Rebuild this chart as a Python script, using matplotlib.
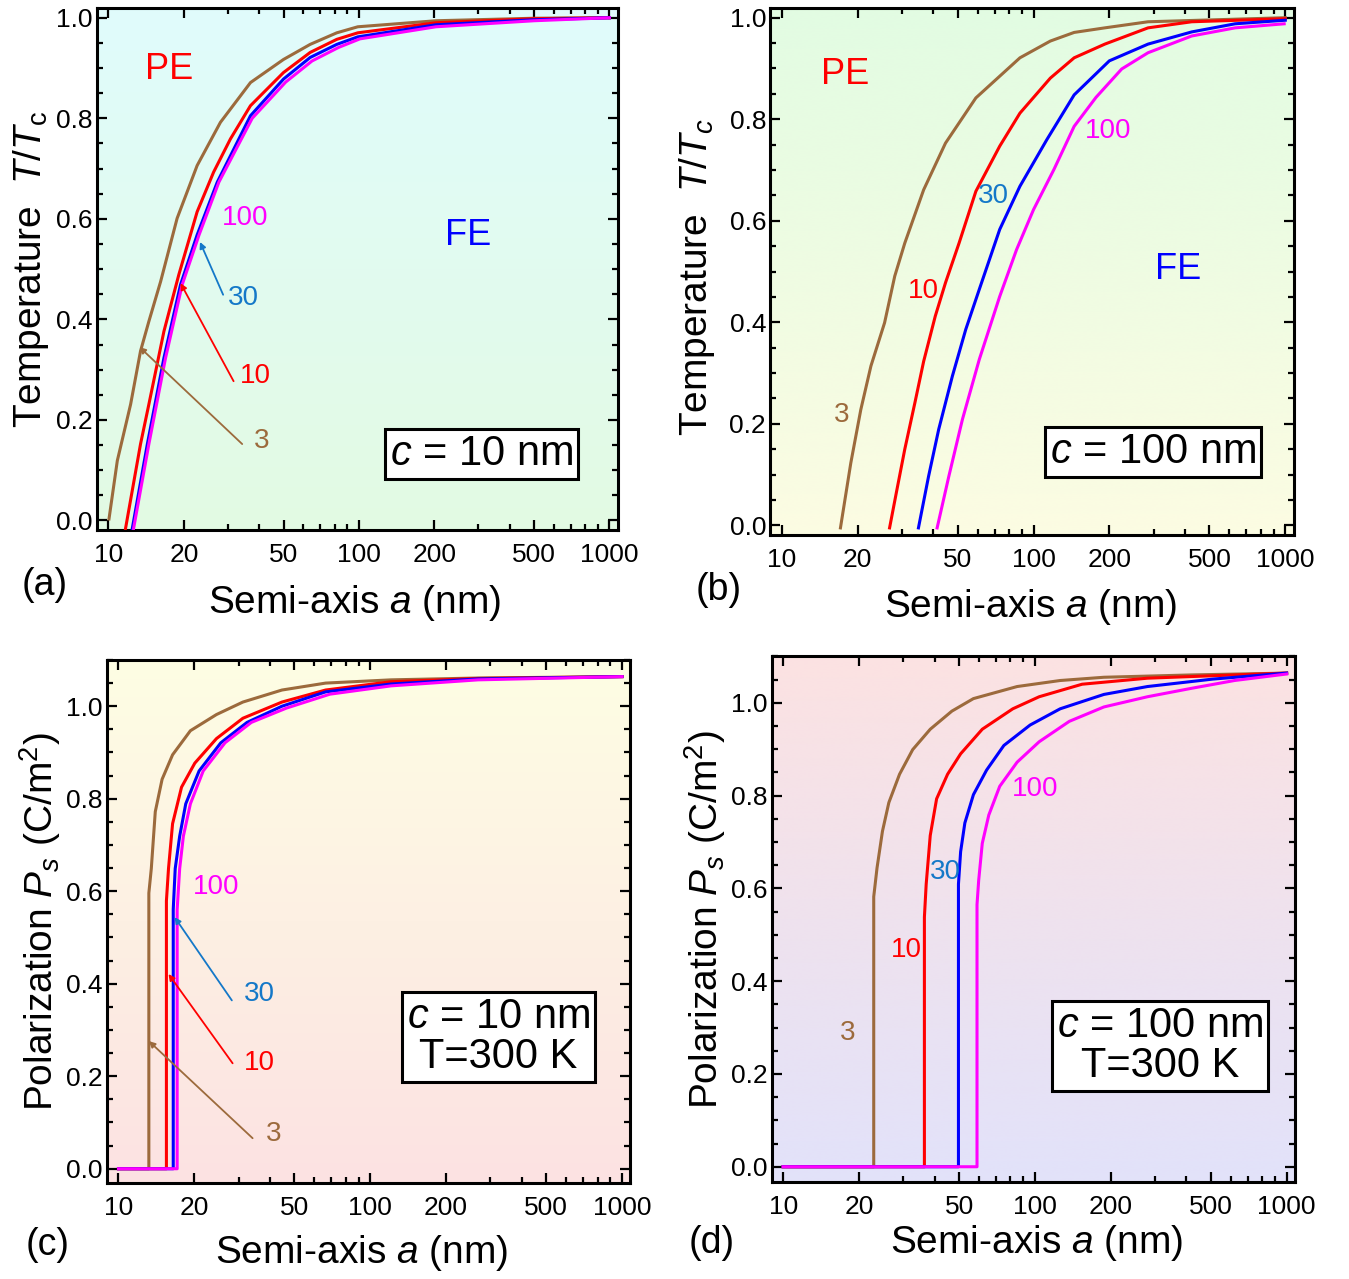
import numpy as np
import matplotlib
matplotlib.use("Agg")
import matplotlib.pyplot as plt
from matplotlib.ticker import FixedLocator, NullFormatter, MultipleLocator

plt.rcParams['font.family'] = ['Liberation Sans', 'DejaVu Sans']
plt.rcParams['mathtext.fontset'] = 'custom'
plt.rcParams['mathtext.rm'] = 'Liberation Sans'
plt.rcParams['mathtext.it'] = 'Liberation Sans:italic'

BROWN = '#9c6a3c'
LBLUE = '#1478c8'

# ---- (a) c = 10 nm, T/Tc vs a
a3_a = [10.05, 10.85, 12.26, 13.43, 14.5, 16.15, 18.8, 22.6, 28.0, 36.9, 50, 63.9, 81.6, 99, 203, 500, 1000]
t3_a = [0.003, 0.119, 0.231, 0.337, 0.396, 0.475, 0.601, 0.706, 0.792, 0.871, 0.917, 0.947, 0.970, 0.982, 0.994, 0.999, 1.0]
a10_a = [11.7, 13.43, 14.5, 16.65, 19.1, 22.6, 26.3, 30.7, 36.9, 50, 63.9, 81.6, 99, 203, 500, 1000]
t10_a = [-0.016, 0.152, 0.231, 0.376, 0.489, 0.614, 0.693, 0.759, 0.825, 0.891, 0.931, 0.957, 0.970, 0.990, 0.998, 1.0]
a30_a = [12.45, 14.3, 16.65, 19.4, 22.6, 27.2, 36.9, 50, 63.9, 81.6, 99, 203, 500, 1000]
t30_a = [-0.016, 0.152, 0.323, 0.469, 0.568, 0.673, 0.805, 0.878, 0.921, 0.947, 0.962, 0.986, 0.996, 1.0]
a100_a = [12.6, 14.5, 16.9, 19.7, 23.0, 27.6, 37.5, 51, 65, 83, 101, 203, 500, 1000]
t100_a = [-0.016, 0.152, 0.323, 0.469, 0.568, 0.673, 0.80, 0.872, 0.914, 0.941, 0.958, 0.982, 0.994, 1.0]

# ---- (b) c = 100 nm
a3_b = [17.1, 18.8, 20.6, 22.6, 25.6, 28.1, 30.8, 36.6, 44.7, 59.0, 88.3, 116.6, 145, 192, 285, 1000]
t3_b = [-0.005, 0.123, 0.228, 0.314, 0.399, 0.491, 0.556, 0.661, 0.753, 0.842, 0.921, 0.954, 0.971, 0.98, 0.992, 1.0]
a10_b = [26.8, 28.5, 30.8, 33.8, 36.6, 40.7, 44.7, 50.6, 59.0, 73.4, 88.3, 116.6, 145, 192, 285, 425, 1000]
t10_b = [-0.005, 0.064, 0.150, 0.242, 0.323, 0.412, 0.478, 0.556, 0.658, 0.747, 0.812, 0.881, 0.921, 0.948, 0.98, 0.992, 0.998]
a30_b = [34.9, 38.3, 42.0, 47.6, 53.8, 60.9, 73.4, 88.3, 113, 145, 200, 285, 425, 632, 1000]
t30_b = [-0.005, 0.097, 0.189, 0.294, 0.386, 0.465, 0.583, 0.668, 0.760, 0.848, 0.915, 0.948, 0.972, 0.988, 0.995]
a100_b = [41.4, 46.1, 52.2, 60.9, 73.4, 85.6, 100, 120.5, 145, 177, 224, 285, 425, 632, 990]
t100_b = [-0.005, 0.097, 0.209, 0.327, 0.451, 0.543, 0.622, 0.701, 0.786, 0.843, 0.899, 0.931, 0.964, 0.98, 0.988]

# ---- (c) c = 10 nm, T = 300 K, Ps vs a
a3_c = [10, 13.2, 13.2, 13.5, 14.0, 14.9, 16.4, 19.3, 24.5, 31.2, 44.6, 66.5, 121, 268, 1000]
p3_c = [0, 0, 0.596, 0.649, 0.772, 0.842, 0.895, 0.947, 0.982, 1.009, 1.035, 1.05, 1.057, 1.061, 1.064]
a10_c = [10, 15.5, 15.5, 15.8, 16.4, 17.8, 20.1, 24.5, 31.2, 44.6, 66.5, 121, 268, 1000]
p10_c = [0, 0, 0.579, 0.649, 0.746, 0.825, 0.877, 0.93, 0.974, 1.009, 1.035, 1.053, 1.06, 1.064]
a30_c = [10, 16.5, 16.5, 16.8, 17.5, 18.5, 20.9, 25.5, 32.4, 44.6, 66.5, 121, 268, 1000]
p30_c = [0, 0, 0.561, 0.649, 0.719, 0.789, 0.86, 0.921, 0.965, 1.0, 1.031, 1.048, 1.059, 1.064]
a100_c = [10, 17.1, 17.1, 17.5, 18.1, 19.3, 21.7, 26.5, 33.7, 46.5, 69.1, 121, 268, 1000]
p100_c = [0, 0, 0.56, 0.649, 0.719, 0.789, 0.86, 0.921, 0.965, 0.996, 1.026, 1.044, 1.057, 1.064]

# ---- (d) c = 100 nm, T = 300 K
a3_d = [10, 22.9, 22.9, 23.6, 24.8, 26.3, 29.0, 32.7, 38.4, 46.8, 57.0, 85.0, 126, 188, 417, 1000]
p3_d = [0, 0, 0.582, 0.644, 0.723, 0.785, 0.846, 0.899, 0.943, 0.982, 1.009, 1.035, 1.048, 1.055, 1.06, 1.064]
a10_d = [10, 36.4, 36.4, 37.0, 38.4, 40.7, 45.0, 50.7, 61.8, 81.7, 104, 154, 280, 621, 1000]
p10_d = [0, 0, 0.538, 0.609, 0.714, 0.793, 0.846, 0.89, 0.943, 0.987, 1.013, 1.04, 1.053, 1.06, 1.064]
a30_d = [10, 49.7, 49.7, 50.7, 52.7, 57.0, 64.3, 75.3, 95.7, 126, 188, 280, 508, 1000]
p30_d = [0, 0, 0.609, 0.679, 0.741, 0.802, 0.855, 0.908, 0.952, 0.987, 1.018, 1.035, 1.051, 1.064]
a100_d = [10, 58.9, 58.9, 59.8, 61.8, 65.6, 72.5, 85.0, 104, 137, 188, 280, 417, 621, 1000]
p100_d = [0, 0, 0.565, 0.617, 0.697, 0.758, 0.82, 0.872, 0.916, 0.96, 0.991, 1.013, 1.031, 1.048, 1.062]

xticks = [10, 20, 50, 100, 200, 500, 1000]
xticklabels = ['10', '20', '50', '100', '200', '500', '1000']


def gradient_bg(ax, top, bottom):
    top = np.array(matplotlib.colors.to_rgb(top))
    bottom = np.array(matplotlib.colors.to_rgb(bottom))
    f = np.linspace(0, 1, 256)[:, None]
    img = (bottom * (1 - f) + top * f)[:, None, :]
    ax.imshow(img, extent=[0, 1, 0, 1], transform=ax.transAxes, origin='lower',
              aspect='auto', zorder=0, interpolation='bicubic')


def style(ax, ylim, top, bottom):
    ax.set_xscale('log')
    gradient_bg(ax, top, bottom)
    ax.set_xlim(9.0, 1080)
    ax.set_ylim(*ylim)
    ax.xaxis.set_major_locator(FixedLocator(xticks))
    ax.set_xticklabels(xticklabels)
    minors = [m * 10 ** e for e in (0, 1, 2) for m in range(1, 10)]
    minors = [v for v in minors if v not in xticks and 9 < v < 1080]
    ax.xaxis.set_minor_locator(FixedLocator(minors))
    ax.xaxis.set_minor_formatter(NullFormatter())
    ax.yaxis.set_major_locator(FixedLocator([0, 0.2, 0.4, 0.6, 0.8, 1.0]))
    ax.yaxis.set_major_formatter(matplotlib.ticker.FormatStrFormatter('%.1f'))
    ax.yaxis.set_minor_locator(MultipleLocator(0.05))
    ax.tick_params(which='both', direction='in', top=True, right=True, width=1.6)
    ax.tick_params(which='major', length=7, labelsize=19)
    ax.tick_params(which='minor', length=4)
    ax.tick_params(axis='x', which='major', pad=9)
    ax.tick_params(axis='y', which='major', pad=3)
    for s in ax.spines.values():
        s.set_linewidth(2.2)
    ax.set_axisbelow(False)


def curves(ax, data):
    for (x, y), col in zip(data, [BROWN, 'red', 'blue', 'magenta']):
        ax.plot(x, y, color=col, lw=2.2, zorder=3)


def boxtext(ax, x, y, s):
    ax.text(x, y, s, fontsize=30, ha='center', va='center', zorder=5, linespacing=1.0,
            bbox=dict(boxstyle='square,pad=0.12', fc='white', ec='black', lw=2.2))


def arrow(ax, start, end, col):
    ax.annotate('', xy=end, xytext=start, zorder=4,
                arrowprops=dict(arrowstyle='-|>', color=col, lw=1.3, mutation_scale=9,
                                shrinkA=0, shrinkB=0))


fig = plt.figure(figsize=(13.49, 12.79), dpi=100)
axa = fig.add_axes([0.0719, 0.5856, 0.386, 0.408])
axb = fig.add_axes([0.571, 0.5817, 0.388, 0.412])
axc = fig.add_axes([0.0793, 0.075, 0.388, 0.409])
axd = fig.add_axes([0.572, 0.0758, 0.388, 0.411])

# (a)
style(axa, (-0.019, 1.019), '#e0fcfc', '#e3fae3')
curves(axa, [(a3_a, t3_a), (a10_a, t10_a), (a30_a, t30_a), (a100_a, t100_a)])
axa.text(17.4, 0.898, 'PE', color='red', fontsize=26, ha='center', va='center')
axa.text(272, 0.566, 'FE', color='blue', fontsize=26, ha='center', va='center')
axa.text(35.2, 0.601, '100', color='magenta', fontsize=20, ha='center', va='center')
axa.text(34.7, 0.442, '30', color=LBLUE, fontsize=20, ha='center', va='center')
axa.text(38.6, 0.287, '10', color='red', fontsize=20, ha='center', va='center')
axa.text(41.0, 0.158, '3', color=BROWN, fontsize=20, ha='center', va='center')
arrow(axa, (28.7, 0.449), (23.2, 0.554), LBLUE)
arrow(axa, (31.6, 0.277), (19.4, 0.472), 'red')
arrow(axa, (34.2, 0.152), (13.3, 0.345), BROWN)
boxtext(axa, 309, 0.133, '$c$ = 10 nm')
axa.text(-0.127, 0.5, r'Temperature  $T/T_{\rm c}$', transform=axa.transAxes, rotation=90,
         fontsize=28, ha='center', va='center')
axa.text(0.495, -0.14, 'Semi-axis $a$ (nm)', transform=axa.transAxes, fontsize=28,
         ha='center', va='center')
axa.text(-0.10, -0.105, '(a)', transform=axa.transAxes, fontsize=27, ha='center', va='center')

# (b)
style(axb, (-0.019, 1.019), '#e2fce2', '#fcfce3')
curves(axb, [(a3_b, t3_b), (a10_b, t10_b), (a30_b, t30_b), (a100_b, t100_b)])
axb.text(17.8, 0.888, 'PE', color='red', fontsize=26, ha='center', va='center')
axb.text(374, 0.504, 'FE', color='blue', fontsize=26, ha='center', va='center')
axb.text(197, 0.776, '100', color='magenta', fontsize=20, ha='center', va='center')
axb.text(69.0, 0.648, '30', color=LBLUE, fontsize=20, ha='center', va='center')
axb.text(36.6, 0.461, '10', color='red', fontsize=20, ha='center', va='center')
axb.text(17.3, 0.218, '3', color=BROWN, fontsize=20, ha='center', va='center')
boxtext(axb, 299, 0.144, '$c$ = 100 nm')
axb.text(-0.14, 0.49, r'Temperature  $T/T_c$', transform=axb.transAxes, rotation=90,
         fontsize=28, ha='center', va='center')
axb.text(0.497, -0.137, 'Semi-axis $a$ (nm)', transform=axb.transAxes, fontsize=28,
         ha='center', va='center')
axb.text(-0.099, -0.104, '(b)', transform=axb.transAxes, fontsize=27, ha='center', va='center')

# (c)
style(axc, (-0.031, 1.10), '#fefee4', '#fce2e2')
curves(axc, [(a3_c, p3_c), (a10_c, p10_c), (a30_c, p30_c), (a100_c, p100_c)])
axc.text(24.5, 0.61, '100', color='magenta', fontsize=20, ha='center', va='center')
axc.text(36.2, 0.377, '30', color=LBLUE, fontsize=20, ha='center', va='center')
axc.text(36.2, 0.228, '10', color='red', fontsize=20, ha='center', va='center')
axc.text(41.2, 0.075, '3', color=BROWN, fontsize=20, ha='center', va='center')
arrow(axc, (28.2, 0.364), (16.7, 0.544), LBLUE)
arrow(axc, (28.4, 0.228), (15.8, 0.421), 'red')
arrow(axc, (34.1, 0.066), (13.2, 0.276), BROWN)
boxtext(axc, 323, 0.284, '$c$ = 10 nm\nT=300 K')
axc.text(-0.128, 0.5, r'Polarization $P_s$ (C/m$^2$)', transform=axc.transAxes, rotation=90,
         fontsize=28, ha='center', va='center')
axc.text(0.487, -0.134, 'Semi-axis $a$ (nm)', transform=axc.transAxes, fontsize=28,
         ha='center', va='center')
axc.text(-0.113, -0.119, '(c)', transform=axc.transAxes, fontsize=27, ha='center', va='center')

# (d)
style(axd, (-0.033, 1.10), '#fce2e2', '#e2e2fa')
curves(axd, [(a3_d, p3_d), (a10_d, p10_d), (a30_d, p30_d), (a100_d, p100_d)])
axd.text(100.5, 0.815, '100', color='magenta', fontsize=20, ha='center', va='center')
axd.text(44.0, 0.635, '30', color=LBLUE, fontsize=20, ha='center', va='center')
axd.text(30.8, 0.468, '10', color='red', fontsize=20, ha='center', va='center')
axd.text(18.0, 0.288, '3', color=BROWN, fontsize=20, ha='center', va='center')
boxtext(axd, 314, 0.261, '$c$ = 100 nm\nT=300 K')
axd.text(-0.128, 0.5, r'Polarization $P_s$ (C/m$^2$)', transform=axd.transAxes, rotation=90,
         fontsize=28, ha='center', va='center')
axd.text(0.506, -0.116, 'Semi-axis $a$ (nm)', transform=axd.transAxes, fontsize=28,
         ha='center', va='center')
axd.text(-0.115, -0.116, '(d)', transform=axd.transAxes, fontsize=27, ha='center', va='center')

fig.savefig('out.png', dpi=100)
